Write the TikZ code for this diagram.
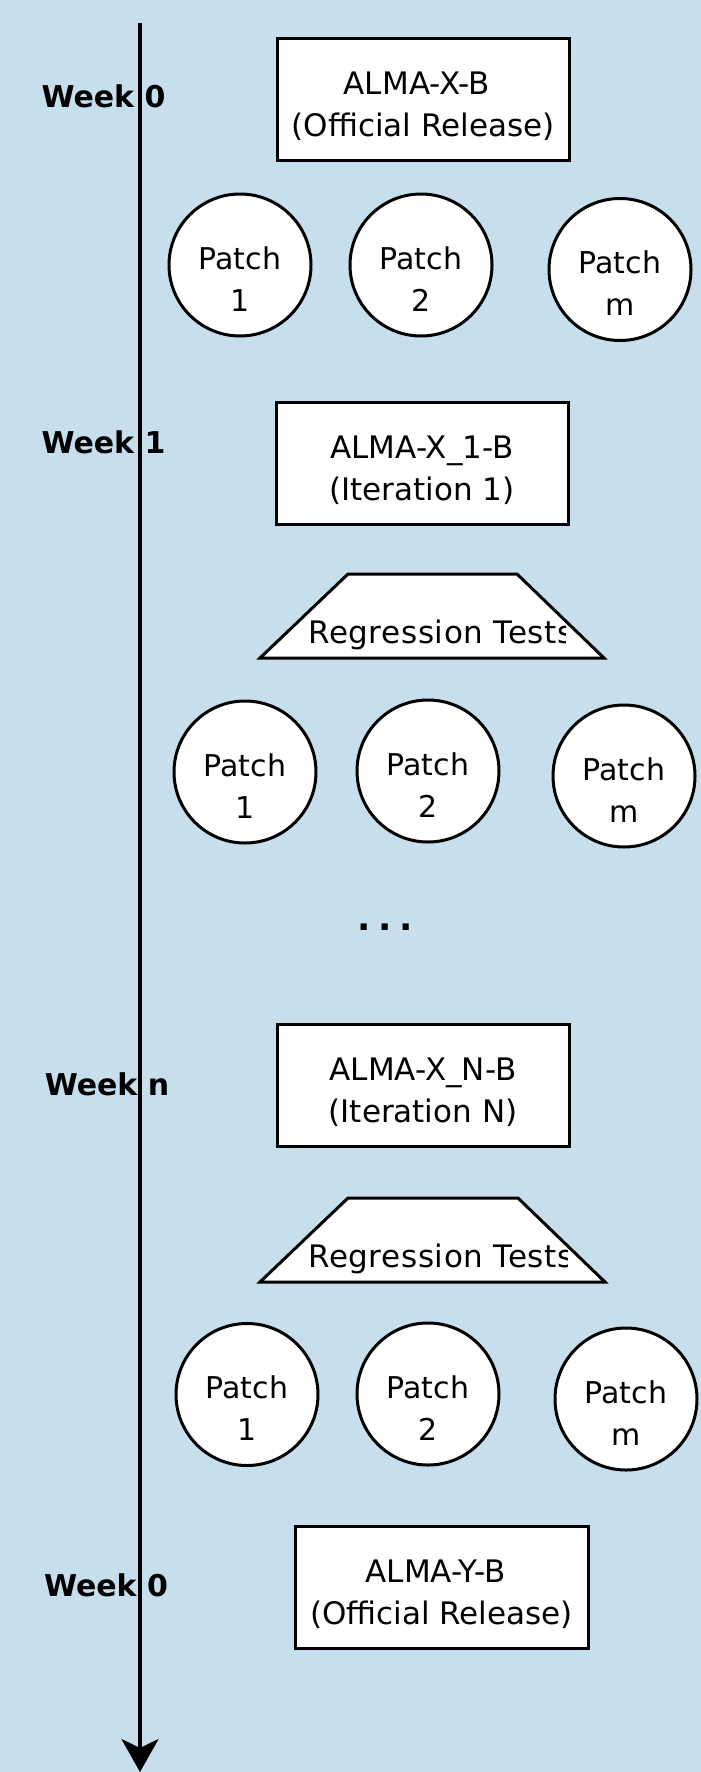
\documentclass[tikz,border=0pt]{standalone}
\usepackage{fontspec}
\setmainfont{DejaVu Sans}
\usetikzlibrary{arrows.meta,calc}
\definecolor{bgblue}{RGB}{199,223,236}
\tikzset{
  relbox/.style={draw=black, line width=3pt, fill=white, minimum width=292pt, minimum height=122pt, inner sep=0pt},
  patchc/.style={circle, draw=black, line width=3pt, fill=white, minimum size=142pt, inner sep=0pt},
  trapz/.style={draw=black, line width=3pt, fill=white, line join=miter},
  btext/.style={align=center, inner sep=0pt, font=\fontsize{31}{42}\selectfont},
  ptext/.style={align=center, inner sep=0pt, font=\fontsize{30}{42}\selectfont},
  rtext/.style={inner sep=0pt, font=\fontsize{31}{42}\selectfont\addfontfeature{LetterSpace=2}},
  weeklbl/.style={anchor=base, inner sep=0pt, font=\fontsize{30}{36}\selectfont\bfseries},
  axisline/.style={line width=3.5pt, -{Stealth[length=33pt,width=37pt,inset=9pt]}}
}
\begin{document}
\begin{tikzpicture}[x=1pt,y=-1pt]
\fill[bgblue] (0,0) rectangle (701,1772);
\useasboundingbox (0,0) rectangle (701,1772);

% Release / iteration boxes
\node[relbox] (b1) at (423,99.5) {};
\node[btext] (b1t) at ($(b1.center)+(0,7)$) {ALMA-X-B\kern12pt\\(Official Release)};
\node[relbox] (b2) at (422,463) {};
\node[btext] (b2t) at ($(b2.center)+(0,7)$) {ALMA-X\_1-B\\(Iteration 1)};
\node[relbox] (b3) at (423,1085.5) {};
\node[btext] (b3t) at ($(b3.center)+(0,7)$) {ALMA-X\_N-B\\(Iteration N)};
\node[relbox, minimum width=293pt] (b4) at (441.5,1587) {};
\node[btext] (b4t) at ($(b4.center)+(0,7)$) {ALMA-Y-B\kern12pt\\(Official Release)};

% Patch circles, row 1
\node[patchc] (p11) at (240,265) {};
\node[ptext] (p11t) at ($(p11.center)+(0,14)$) {Patch\\1};
\node[patchc] (p12) at (421,265) {};
\node[ptext] (p12t) at ($(p12.center)+(0,14)$) {Patch\\2};
\node[patchc] (p1m) at (620,269.5) {};
\node[ptext] (p1mt) at ($(p1m.center)+(0,14)$) {Patch\\m};

% Patch circles, row 2
\node[patchc] (p21) at (245,772) {};
\node[ptext] (p21t) at ($(p21.center)+(0,14)$) {Patch\\1};
\node[patchc] (p22) at (428,771) {};
\node[ptext] (p22t) at ($(p22.center)+(0,14)$) {Patch\\2};
\node[patchc] (p2m) at (624,776) {};
\node[ptext] (p2mt) at ($(p2m.center)+(0,14)$) {Patch\\m};

% Patch circles, row 3
\node[patchc] (p31) at (247,1394.5) {};
\node[ptext] (p31t) at ($(p31.center)+(0,14)$) {Patch\\1};
\node[patchc] (p32) at (428,1394) {};
\node[ptext] (p32t) at ($(p32.center)+(0,14)$) {Patch\\2};
\node[patchc] (p3m) at (626,1399) {};
\node[ptext] (p3mt) at ($(p3m.center)+(0,14)$) {Patch\\m};

% Regression test trapezoids
\draw[trapz] (260,658) -- (348,574) -- (517,574) -- (604,658) -- cycle;
\begin{scope}
  \clip (0,560) rectangle (565,670);
  \node[rtext, anchor=base west] (rt1) at (308,643) {Regression Tests};
\end{scope}
\draw[trapz] (260,1282) -- (348,1198) -- (518,1198) -- (605,1282) -- cycle;
\begin{scope}
  \clip (0,1185) rectangle (567,1295);
  \node[rtext, anchor=base west] (rt2) at (308,1267) {Regression Tests};
\end{scope}

% dots
\node[inner sep=0pt, font=\fontsize{35}{35}\selectfont\bfseries] (dots) at (385,927) {.\kern7.7pt.\kern7.7pt.};

% timeline axis
\coordinate (axtop) at (140,23);
\coordinate (axbot) at (140,1772);
\node[weeklbl] (w0) at (103.5,107) {Week 0};
\node[weeklbl] (w1) at (103.5,453) {Week 1};
\node[weeklbl] (wn) at (107,1095) {Week n};
\node[weeklbl] (w0b) at (106,1596) {Week 0};
\draw[axisline] (axtop) -- (axbot);
\end{tikzpicture}
\end{document}
